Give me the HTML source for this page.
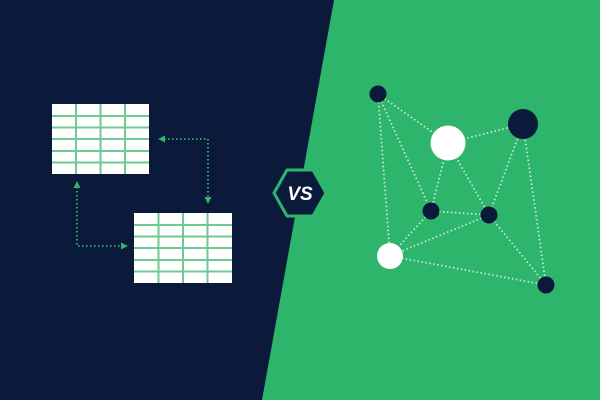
<!DOCTYPE html>
<html><head><style>html,body{margin:0;padding:0;width:600px;height:400px;overflow:hidden;background:#0b1a3b}</style></head>
<body>
<svg width="600" height="400" viewBox="0 0 600 400" xmlns="http://www.w3.org/2000/svg">
<rect width="600" height="400" fill="#0b1a3b"/>
<polygon points="334,0 600,0 600,400 262,400" fill="#2cb56b"/>
<g>
<rect x="52" y="104" width="97" height="70" fill="#fff"/>
<g stroke="#6fc993" stroke-width="2">
<line x1="76" y1="104" x2="76" y2="174"/><line x1="100.5" y1="104" x2="100.5" y2="174"/><line x1="125" y1="104" x2="125" y2="174"/>
<line x1="52" y1="116" x2="149" y2="116"/><line x1="52" y1="127.5" x2="149" y2="127.5"/><line x1="52" y1="139" x2="149" y2="139"/><line x1="52" y1="151" x2="149" y2="151"/><line x1="52" y1="162.5" x2="149" y2="162.5"/>
</g>
<rect x="134" y="213" width="98" height="70" fill="#fff"/>
<g stroke="#6fc993" stroke-width="2">
<line x1="158.5" y1="213" x2="158.5" y2="283"/><line x1="183" y1="213" x2="183" y2="283"/><line x1="207.5" y1="213" x2="207.5" y2="283"/>
<line x1="134" y1="225" x2="232" y2="225"/><line x1="134" y1="236.5" x2="232" y2="236.5"/><line x1="134" y1="248" x2="232" y2="248"/><line x1="134" y1="260" x2="232" y2="260"/><line x1="134" y1="271.5" x2="232" y2="271.5"/>
</g>
</g>
<g stroke="#2cb56b" stroke-width="1.8" stroke-dasharray="1.5 2.5" fill="none">
<polyline points="164,139 208,139 208,198"/>
<polyline points="77,187 77,246 122,246"/>
</g>
<g fill="#2cb56b">
<polygon points="158,139 165,135.5 165,142.5"/>
<polygon points="208,204 204.5,197 211.5,197"/>
<polygon points="77,181 73.5,188 80.5,188"/>
<polygon points="128,246 121,242.5 121,249.5"/>
</g>
<polygon points="274,193 287,170 313,170 326,193 313,216 287,216" fill="#0b1a3b" stroke="#2cb56b" stroke-width="3"/>
<text x="300" y="200" text-anchor="middle" font-family="Liberation Sans, sans-serif" font-weight="bold" font-style="italic" font-size="19" fill="#fff">VS</text>
<g stroke="#c4ebd3" stroke-width="1.8" stroke-dasharray="1.5 2.5">
<line x1="378" y1="94" x2="448" y2="143"/>
<line x1="378" y1="94" x2="431" y2="211"/>
<line x1="378" y1="94" x2="390" y2="256"/>
<line x1="448" y1="143" x2="523" y2="124"/>
<line x1="448" y1="143" x2="431" y2="211"/>
<line x1="448" y1="143" x2="489" y2="215"/>
<line x1="523" y1="124" x2="489" y2="215"/>
<line x1="523" y1="124" x2="546" y2="285"/>
<line x1="431" y1="211" x2="489" y2="215"/>
<line x1="431" y1="211" x2="390" y2="256"/>
<line x1="489" y1="215" x2="390" y2="256"/>
<line x1="489" y1="215" x2="546" y2="285"/>
<line x1="390" y1="256" x2="546" y2="285"/>
</g>
<g fill="#0b1a3b">
<circle cx="378" cy="94" r="8.5"/>
<circle cx="523" cy="124" r="15"/>
<circle cx="431" cy="211" r="8.5"/>
<circle cx="489" cy="215" r="8.5"/>
<circle cx="546" cy="285" r="8.5"/>
</g>
<g fill="#fff">
<circle cx="448" cy="143" r="17.5"/>
<circle cx="390" cy="256" r="13"/>
</g>
</svg>
</body></html>
